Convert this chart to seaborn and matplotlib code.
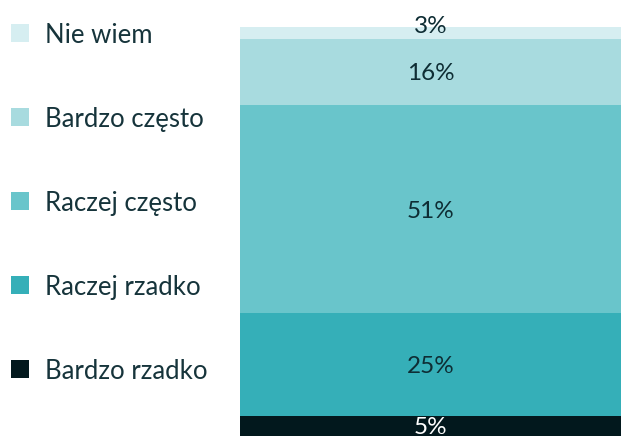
import matplotlib
matplotlib.use("Agg")
import matplotlib.pyplot as plt
from matplotlib.patches import Rectangle
import seaborn as sns
import pandas as pd
import numpy as np

# answer categories, bottom to top of the bar
categories = ["Bardzo rzadko", "Raczej rzadko", "Raczej często", "Bardzo często", "Nie wiem"]
shares = [5, 25, 51, 16, 3]
colors = ["#02181d", "#35afb8", "#69c5cb", "#a8dbdf", "#d6eef1"]
label_colors = ["white", "#0e2d34", "#0e2d34", "#0e2d34", "#0e2d34"]

sns.set_style("white")
plt.rcParams["font.family"] = ["Lato", "DejaVu Sans"]

W, H = 621, 436
fig = plt.figure(figsize=(W / 100, H / 100), dpi=100)
ax = fig.add_axes([240 / W, 0, 381 / W, 409 / H])

df = pd.DataFrame({"cat": categories, "share": shares})
df["top"] = df["share"].cumsum()
df["mid"] = df["top"] - df["share"] / 2
df["x"] = "all"

# stacked bar: draw cumulative totals from the top segment down
for i in range(len(df) - 1, -1, -1):
    sns.barplot(data=df.iloc[[i]], x="x", y="top", color=colors[i],
                width=1.0, saturation=1, ax=ax, edgecolor="none")

for i, row in df.iterrows():
    y = row["mid"]
    if row["share"] < 4:
        y = row["top"] + 0.5
    ax.text(0, y, f"{row['share']}%", ha="center", va="center_baseline",
            fontsize=17.5, color=label_colors[i], clip_on=False)

ax.set_xlim(-0.5, 0.5)
ax.set_ylim(0, 100)
ax.axis("off")

# legend on the left, top entry first
for k, (name, c) in enumerate(zip(categories[::-1], colors[::-1])):
    yc = 33 + k * 84
    fig.add_artist(Rectangle((11 / W, 1 - (yc + 9) / H), 18 / W, 18 / H,
                             transform=fig.transFigure, facecolor=c,
                             edgecolor="none"))
    fig.text(45 / W, 1 - yc / H, name, ha="left", va="center_baseline",
             fontsize=18.5, color="#16343b")

fig.savefig("out.png", dpi=100)
